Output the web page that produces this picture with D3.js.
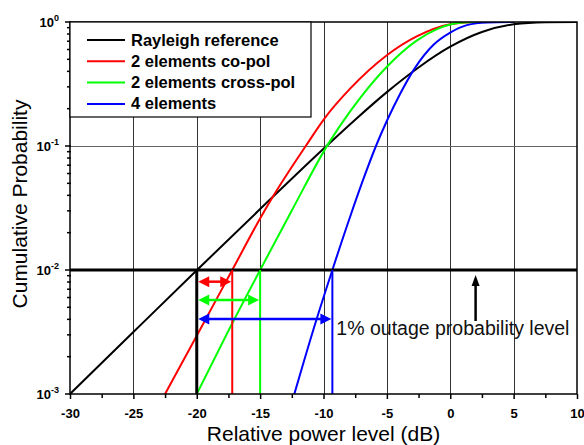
<!DOCTYPE html>
<html>
<head>
<meta charset="utf-8">
<script src="https://cdn.jsdelivr.net/npm/d3@7"></script>
<style>
    body { margin: 0; background: #fff; }
    text { font-family: "Liberation Sans", Arial, sans-serif; }
</style>
</head>
<body>
<script>
// values
var rayleighX = [-30, -25, -20, -15, -10, -7.5, -5, -2.5, 0, 2.5, 5, 7.5, 10];
var rayleighP = [0.001, 0.00316, 0.00995, 0.031, 0.095, 0.163, 0.272, 0.43, 0.632, 0.83, 0.958, 0.996, 1];

var coPolX = [-22.5, -20, -17.2, -15, -14, -11.4, -9.9, -7.9, -5, -2.65, 0, 1.2, 2.4, 4];
var coPolP = [0.001, 0.00295, 0.01, 0.026, 0.0389, 0.1, 0.168, 0.29, 0.54, 0.766, 0.96, 0.991, 0.999, 1];

var crossPolX = [-20, -17.5, -15, -12.5, -9.6, -7.9, -5, -2.65, -1, 0, 1, 2, 3];
var crossPolP = [0.001, 0.00324, 0.01, 0.0302, 0.105, 0.19, 0.436, 0.708, 0.881, 0.955, 0.989, 0.999, 1];

var fourElX = [-12.3, -10.8, -9.3, -7.9, -6.9, -5.86, -4.97, -3.96, -2.78, -1.34, 0, 1.31, 2.9, 5];
var fourElP = [0.001, 0.0033, 0.01, 0.0269, 0.0525, 0.1, 0.162, 0.263, 0.427, 0.653, 0.822, 0.944, 0.991, 1];

var seriesNames = ['Rayleigh reference', '2 elements co-pol', '2 elements cross-pol', '4 elements'];
var seriesColors = ['#000000', '#ff0000', '#00ff00', '#0000ff'];

// 1% outage crossings and the arrow rows under the line
var outageLevel = 0.01;
var crossX = [-20, -17.2, -15, -9.3];
var arrowP = [0.00805, 0.00573, 0.00403];

var xTicks = [-30, -25, -20, -15, -10, -5, 0, 5, 10];
var yTicks = [0.001, 0.01, 0.1, 1];
var yTickExp = ['-3', '-2', '-1', '0'];

var noteText = '1% outage probability level';
var noteArrowX = 2;
var xTitle = 'Relative power level (dB)';
var yTitle = 'Cumulative Probability';

var WIDTH = 584;
var HEIGHT = 445;
var LEFT = 70, RIGHT = 577, TOP = 22, BOTTOM = 394;

var svg = d3.select('body').append('svg')
    .attr('width', WIDTH)
    .attr('height', HEIGHT);

var x = d3.scaleLinear().domain([-30, 10]).range([LEFT, RIGHT]);
var y = d3.scaleLog().domain([0.001, 1]).range([BOTTOM, TOP]);

svg.append('defs').append('clipPath').attr('id', 'plot-clip')
    .append('rect')
    .attr('x', LEFT).attr('y', TOP)
    .attr('width', RIGHT - LEFT).attr('height', BOTTOM - TOP);

// grid
svg.selectAll('.vgrid').data(xTicks.slice(1, -1)).enter()
    .append('line')
    .attr('class', 'vgrid')
    .attr('x1', function(d){return Math.round(x(d)) + 0.5;})
    .attr('x2', function(d){return Math.round(x(d)) + 0.5;})
    .attr('y1', TOP).attr('y2', BOTTOM)
    .attr('stroke', '#333')
    .attr('stroke-width', 1);

svg.append('line')
    .attr('x1', LEFT).attr('x2', RIGHT)
    .attr('y1', Math.round(y(0.1)) + 0.5).attr('y2', Math.round(y(0.1)) + 0.5)
    .attr('stroke', '#666')
    .attr('stroke-width', 1);

// axes
var minorX = d3.range(-27.5, 10, 5);
svg.append('g')
    .attr('transform', 'translate(0,' + BOTTOM + ')')
    .call(d3.axisBottom(x).tickValues(minorX).tickSize(4).tickFormat(''))
    .call(function(g){ g.select('.domain').remove(); })
    .selectAll('line').attr('stroke-width', 1.5);

var xAxis = svg.append('g')
    .attr('transform', 'translate(0,' + BOTTOM + ')')
    .call(d3.axisBottom(x).tickValues(xTicks).tickSize(5).tickPadding(10).tickSizeOuter(0)
        .tickFormat(function(d){return String(d);}));
xAxis.select('.domain').remove();
xAxis.selectAll('line').attr('stroke-width', 1.5);
xAxis.selectAll('text')
    .style('font-size', '13px')
    .style('font-weight', 'bold')
    .style('font-family', '"Liberation Sans", Arial, sans-serif');

var minorY = [];
[0.001, 0.01, 0.1].forEach(function(dec){
    for (var k = 2; k <= 9; k++) minorY.push(dec * k);
});
svg.selectAll('.yminor').data(minorY).enter()
    .append('line')
    .attr('class', 'yminor')
    .attr('x1', LEFT - 3).attr('x2', LEFT + 1)
    .attr('y1', function(d){return y(d);})
    .attr('y2', function(d){return y(d);})
    .attr('stroke', '#000')
    .attr('stroke-width', 1.5);

svg.selectAll('.ymajor').data(yTicks).enter()
    .append('line')
    .attr('class', 'ymajor')
    .attr('x1', LEFT - 5).attr('x2', LEFT + 1)
    .attr('y1', function(d){return y(d);})
    .attr('y2', function(d){return y(d);})
    .attr('stroke', '#000')
    .attr('stroke-width', 1.5);

var yLabels = svg.selectAll('.ylab').data(yTicks).enter()
    .append('text')
    .attr('class', 'ylab')
    .attr('x', LEFT - 11)
    .attr('y', function(d){return y(d) + 5;})
    .attr('text-anchor', 'end')
    .attr('font-weight', 'bold')
    .attr('font-size', 13);
yLabels.append('tspan').text('10');
yLabels.append('tspan')
    .attr('dy', -6)
    .attr('font-size', 9)
    .text(function(d, i){return yTickExp[i];});

// curves
var line = d3.line()
    .x(function(d){return x(d[0]);})
    .y(function(d){return y(d[1]);})
    .curve(d3.curveMonotoneX);

var curves = [
    d3.zip(rayleighX, rayleighP),
    d3.zip(coPolX, coPolP),
    d3.zip(crossPolX, crossPolP),
    d3.zip(fourElX, fourElP)
];

svg.append('g').attr('clip-path', 'url(#plot-clip)')
    .selectAll('.curve').data(curves).enter()
    .append('path')
    .attr('class', 'curve')
    .attr('d', line)
    .attr('fill', 'none')
    .attr('stroke', function(d, i){return seriesColors[i];})
    .attr('stroke-width', 2);

// 1% outage line and the drop lines
svg.append('line')
    .attr('x1', LEFT).attr('x2', RIGHT)
    .attr('y1', y(outageLevel)).attr('y2', y(outageLevel))
    .attr('stroke', '#000')
    .attr('stroke-width', 3);

svg.selectAll('.drop').data(crossX).enter()
    .append('line')
    .attr('class', 'drop')
    .attr('x1', function(d){return x(d);})
    .attr('x2', function(d){return x(d);})
    .attr('y1', y(outageLevel)).attr('y2', BOTTOM)
    .attr('stroke', function(d, i){return seriesColors[i];})
    .attr('stroke-width', function(d, i){return i === 0 ? 3 : 2;});

// double arrows
function arrowHead(px, py, dir){
    // dir: +1 points right, -1 points left
    var L = 11, W = 5.5;
    return 'M' + px + ',' + py + 'L' + (px - dir*L) + ',' + (py - W) + 'L' + (px - dir*L) + ',' + (py + W) + 'Z';
}
arrowP.forEach(function(p, i){
    var color = seriesColors[i + 1];
    var x0 = x(crossX[0]) + 1.5, x1 = x(crossX[i + 1]) - 1;
    var yy = y(p);
    svg.append('line')
        .attr('x1', x0 + 8).attr('x2', x1 - 8)
        .attr('y1', yy).attr('y2', yy)
        .attr('stroke', color)
        .attr('stroke-width', 2.5);
    svg.append('path').attr('d', arrowHead(x0, yy, -1)).attr('fill', color);
    svg.append('path').attr('d', arrowHead(x1, yy, 1)).attr('fill', color);
});

// note arrow and text
var ax = x(noteArrowX);
svg.append('line')
    .attr('x1', ax).attr('x2', ax)
    .attr('y1', 321).attr('y2', y(outageLevel) + 14)
    .attr('stroke', '#000')
    .attr('stroke-width', 2.5);
svg.append('path')
    .attr('d', 'M' + ax + ',' + (y(outageLevel) + 5) + 'L' + (ax - 4) + ',' + (y(outageLevel) + 16) + 'L' + (ax + 4) + ',' + (y(outageLevel) + 16) + 'Z')
    .attr('fill', '#000');

svg.append('text')
    .attr('x', x(crossX[3]) + 4)
    .attr('y', 335)
    .attr('font-size', 19.5)
    .attr('fill', '#111')
    .text(noteText);

// frame
svg.append('rect')
    .attr('x', LEFT).attr('y', TOP)
    .attr('width', RIGHT - LEFT).attr('height', BOTTOM - TOP)
    .attr('fill', 'none')
    .attr('stroke', '#000')
    .attr('stroke-width', 1.5);

// legend
var LEG_W = 241, LEG_H = 95, ROW = 21.3;
svg.append('rect')
    .attr('x', LEFT).attr('y', TOP)
    .attr('width', LEG_W).attr('height', LEG_H)
    .attr('fill', '#fff')
    .attr('stroke', '#000')
    .attr('stroke-width', 1.2);

var legendRows = svg.selectAll('.legend-row').data(seriesNames).enter()
    .append('g')
    .attr('class', 'legend-row')
    .attr('transform', function(d, i){return 'translate(0,' + (40 + i*ROW) + ')';});
legendRows.append('line')
    .attr('x1', 87).attr('x2', 125)
    .attr('stroke', function(d, i){return seriesColors[i];})
    .attr('stroke-width', 2);
legendRows.append('text')
    .attr('x', 131)
    .attr('y', 5.5)
    .attr('font-size', 16.5)
    .attr('font-weight', 'bold')
    .text(function(d){return d;});

// axis titles
svg.append('text')
    .attr('x', (LEFT + RIGHT)/2)
    .attr('y', 441)
    .attr('text-anchor', 'middle')
    .attr('font-size', 21)
    .text(xTitle);

svg.append('text')
    .attr('transform', 'translate(27,' + 204 + ') rotate(-90)')
    .attr('text-anchor', 'middle')
    .attr('font-size', 21)
    .text(yTitle);
</script>
</body>
</html>
